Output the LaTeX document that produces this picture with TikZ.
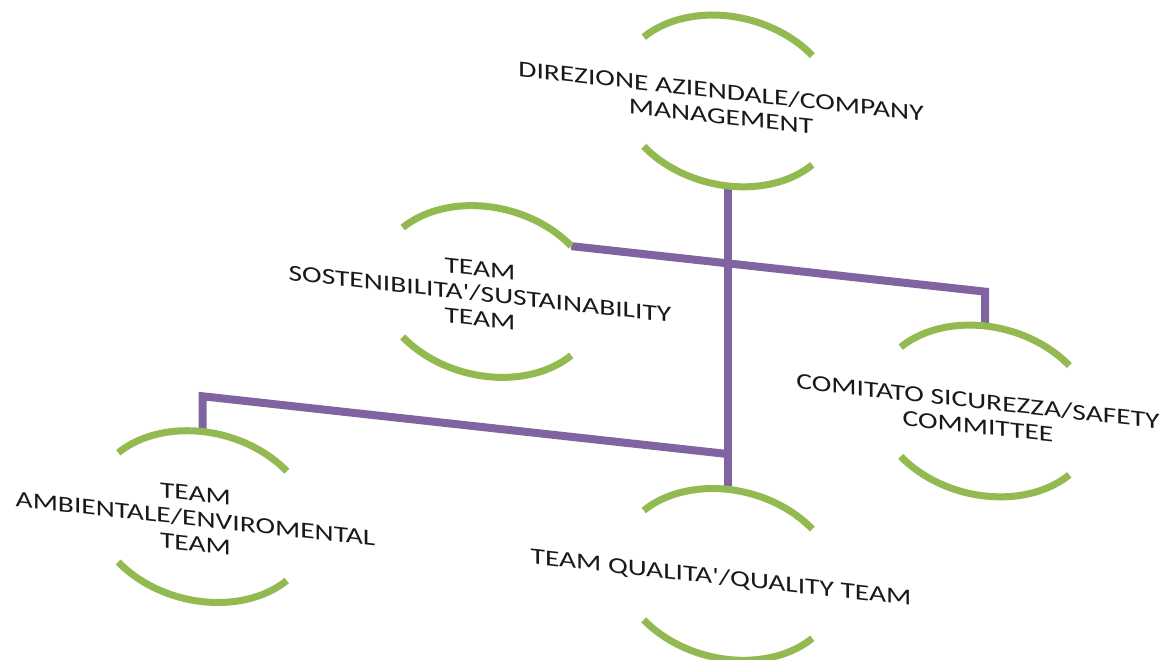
\documentclass[tikz,border=0pt]{standalone}
\usepackage{fontspec}
\setmainfont{Carlito}
\definecolor{grn}{RGB}{146,186,81}
\definecolor{prp}{RGB}{128,100,162}
\begin{document}
\begin{tikzpicture}[x=1pt,y=1pt,
  lbl/.style={transform shape, font=\fontsize{29.5}{32.5}\selectfont, align=center,
              inner sep=0pt, text depth=0pt, text=black!90},
  ring/.style={draw=grn, line width=7pt},
  link/.style={draw=prp, line width=8pt, line join=miter}]
\fill[white] (0,0) rectangle (1166,-660);
\useasboundingbox (0,0) rectangle (1166,-660);
\begin{scope}[yslant=-0.11, yscale=0.773]
  % anchor points of the connectors
  \coordinate (dir-s)   at (728,-137);
  \coordinate (qual-n)  at (728,-529.5);
  \coordinate (sost-e)  at (571.3,-237.1);
  \coordinate (k1)      at (985,-237.1);
  \coordinate (comit-n) at (985,-281.5);
  \coordinate (jct)     at (728,-483.8);
  \coordinate (k2)      at (202.5,-483.8);
  \coordinate (amb-n)   at (202.5,-529.5);
  % connectors
  \draw[link] (dir-s) -- (qual-n);
  \draw[link] (sost-e) -- (k1) -- (comit-n);
  \draw[link] (jct) -- (k2) -- (amb-n);
  % rings
  \draw[ring] (812.3,43.7)   arc[start angle=40, end angle=140, radius=110];
  \draw[ring] (643.7,-97.7)  arc[start angle=220, end angle=320, radius=110];
  \draw[ring] (571.3,-237.1) arc[start angle=40, end angle=140, radius=110];
  \draw[ring] (402.7,-378.5) arc[start angle=220, end angle=320, radius=110];
  \draw[ring] (1069.3,-320.8) arc[start angle=40, end angle=140, radius=110];
  \draw[ring] (900.7,-462.2) arc[start angle=220, end angle=320, radius=110];
  \draw[ring] (812.3,-568.8) arc[start angle=40, end angle=140, radius=110];
  \draw[ring] (643.7,-710.2) arc[start angle=220, end angle=320, radius=110];
  \draw[ring] (286.8,-568.8) arc[start angle=40, end angle=140, radius=110];
  \draw[ring] (118.2,-710.2) arc[start angle=220, end angle=320, radius=110];
  % labels
  \node[lbl] (dir)   at (721,-31)      {DIREZIONE AZIENDALE/COMPANY\\MANAGEMENT};
  \node[lbl] (sost)  at (480,-311.8)   {TEAM\\SOSTENIBILITA\textquotesingle/SUSTAINABILITY\\TEAM};
  \node[lbl] (comit) at (978,-395.5)   {COMITATO SICUREZZA/SAFETY\\COMMITTEE};
  \node[lbl] (qual)  at (721,-643.5)   {TEAM QUALITA\textquotesingle/QUALITY TEAM};
  \node[lbl] (amb)   at (195.5,-643.5) {TEAM\\AMBIENTALE/ENVIROMENTAL\\TEAM};
\end{scope}
\end{tikzpicture}
\end{document}
